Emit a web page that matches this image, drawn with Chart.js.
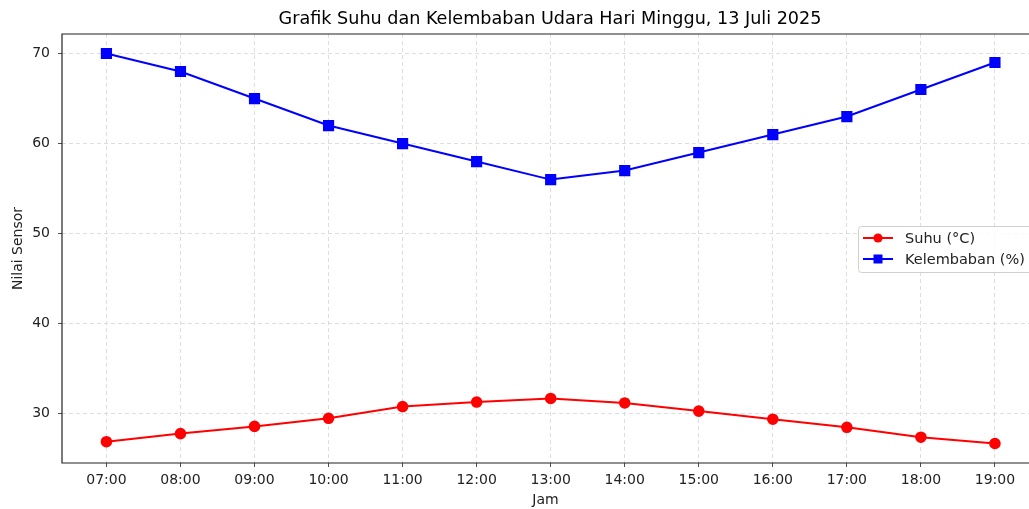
<!DOCTYPE html>
<html>
<head>
<meta charset="utf-8">
<script src="https://cdn.jsdelivr.net/npm/chart.js@4"></script>
<style>
  html, body { margin: 0; padding: 0; background: #fff; }
  #wrap { width: 1029px; height: 509px; }
</style>
</head>
<body>
<div id="wrap"><canvas id="myChart" width="1029" height="509"></canvas></div>
<script>
// data
const jam = ['07:00','08:00','09:00','10:00','11:00','12:00','13:00','14:00','15:00','16:00','17:00','18:00','19:00'];
const suhu = [26.9, 27.8, 28.6, 29.5, 30.8, 31.3, 31.7, 31.2, 30.3, 29.4, 28.5, 27.4, 26.7];
const kelembaban = [70, 68, 65, 62, 60, 58, 56, 57, 59, 61, 63, 66, 69];
const yTicks = [30, 40, 50, 60, 70];
const judul = 'Grafik Suhu dan Kelembaban Udara Hari Minggu, 13 Juli 2025';

const font = "'DejaVu Sans', sans-serif";
Chart.defaults.font.family = font;
Chart.defaults.color = '#222';

function toPoints(arr){
  return arr.map((v, i) => ({x: i, y: v}));
}

// title, frame round the plot (right side is cut off in the original), legend inside the plot
const framePlugin = {
  id: 'frame',
  afterDraw(chart){
    const ctx = chart.ctx;
    const a = chart.chartArea;
    ctx.save();

    ctx.fillStyle = '#000';
    ctx.font = '17.6px ' + font;
    ctx.textAlign = 'center';
    ctx.textBaseline = 'middle';
    ctx.fillText(judul, 550, 19);

    ctx.strokeStyle = '#222';
    ctx.lineWidth = 1.2;
    ctx.beginPath();
    ctx.moveTo(a.right + 2, a.top);
    ctx.lineTo(a.left, a.top);
    ctx.lineTo(a.left, a.bottom);
    ctx.lineTo(a.right + 2, a.bottom);
    ctx.stroke();

    // legend
    const bx = 858, by = 226, bw = 175, bh = 46;
    ctx.fillStyle = 'rgba(255,255,255,0.85)';
    ctx.strokeStyle = '#d0d0d0';
    ctx.lineWidth = 1;
    ctx.beginPath();
    ctx.roundRect(bx + 0.5, by + 0.5, bw, bh, 3);
    ctx.fill();
    ctx.stroke();

    const items = chart.data.datasets;
    items.forEach((ds, i) => {
      const y = by + 12 + i * 21;
      ctx.strokeStyle = ds.borderColor;
      ctx.lineWidth = 2;
      ctx.beginPath();
      ctx.moveTo(863, y);
      ctx.lineTo(893, y);
      ctx.stroke();
      ctx.fillStyle = ds.borderColor;
      if (ds.pointStyle === 'rect') {
        ctx.fillRect(878 - 4.5, y - 4.5, 9, 9);
      } else {
        ctx.beginPath();
        ctx.arc(878, y, 4.6, 0, Math.PI * 2);
        ctx.fill();
      }
      ctx.fillStyle = '#222';
      ctx.font = '14.5px ' + font;
      ctx.textBaseline = 'middle';
      ctx.textAlign = 'left';
      ctx.fillText(ds.label, 905, y + 1);
    });
    ctx.restore();
  }
};

const config = {
  type: 'line',
  data: {
    datasets: [{
      label: 'Suhu (°C)',
      data: toPoints(suhu),
      borderColor: '#ff0000',
      backgroundColor: '#ff0000',
      borderWidth: 2,
      pointStyle: 'circle',
      pointRadius: 4.8,
      pointHoverRadius: 4.8,
      tension: 0
    }, {
      label: 'Kelembaban (%)',
      data: toPoints(kelembaban),
      borderColor: '#0000ff',
      backgroundColor: '#0000ff',
      borderWidth: 2,
      pointStyle: 'rect',
      pointRadius: 6.5,
      pointHoverRadius: 6.5,
      tension: 0
    }]
  },
  options: {
    responsive: false,
    animation: false,
    layout: { autoPadding: false, padding: { left: 0, right: 0, top: 34, bottom: 0 } },
    plugins: {
      legend: { display: false },
      tooltip: { enabled: false },
      title: { display: false }
    },
    scales: {
      x: {
        type: 'linear',
        min: -0.6,
        max: 12.46,
        afterBuildTicks(scale){
          scale.ticks = jam.map((_, i) => ({value: i}));
        },
        afterFit(scale){
          scale.height = 46;
          scale.paddingLeft = 0;
          scale.paddingRight = 0;
        },
        ticks: {
          callback: (v) => jam[v],
          font: { size: 14, family: font },
          color: '#222',
          padding: 5,
          maxRotation: 0,
          autoSkip: false
        },
        grid: {
          color: '#d6d6d6',
          borderDash: [4, 3],
          tickBorderDash: [],
          tickColor: '#222',
          tickLength: 4,
          lineWidth: 0.8
        },
        border: { display: false, dash: [4, 3] },
        title: {
          display: true,
          text: 'Jam',
          color: '#222',
          font: { size: 14, family: font },
          padding: { top: 2, bottom: 0 }
        }
      },
      y: {
        min: 24.535,
        max: 72.165,
        afterBuildTicks(scale){
          scale.ticks = yTicks.map(v => ({value: v}));
        },
        afterFit(scale){
          scale.width = 62;
          scale.paddingTop = 0;
          scale.paddingBottom = 0;
        },
        ticks: {
          font: { size: 14, family: font },
          color: '#222',
          padding: 8
        },
        grid: {
          color: '#d6d6d6',
          borderDash: [4, 3],
          tickBorderDash: [],
          tickColor: '#222',
          tickLength: 4,
          lineWidth: 0.8
        },
        border: { display: false, dash: [4, 3] },
        title: {
          display: true,
          text: 'Nilai Sensor',
          color: '#222',
          font: { size: 14, family: font },
          padding: { top: 10, bottom: 0 }
        }
      }
    }
  },
  plugins: [framePlugin]
};

const myChart = new Chart(document.getElementById('myChart'), config);
</script>
</body>
</html>
